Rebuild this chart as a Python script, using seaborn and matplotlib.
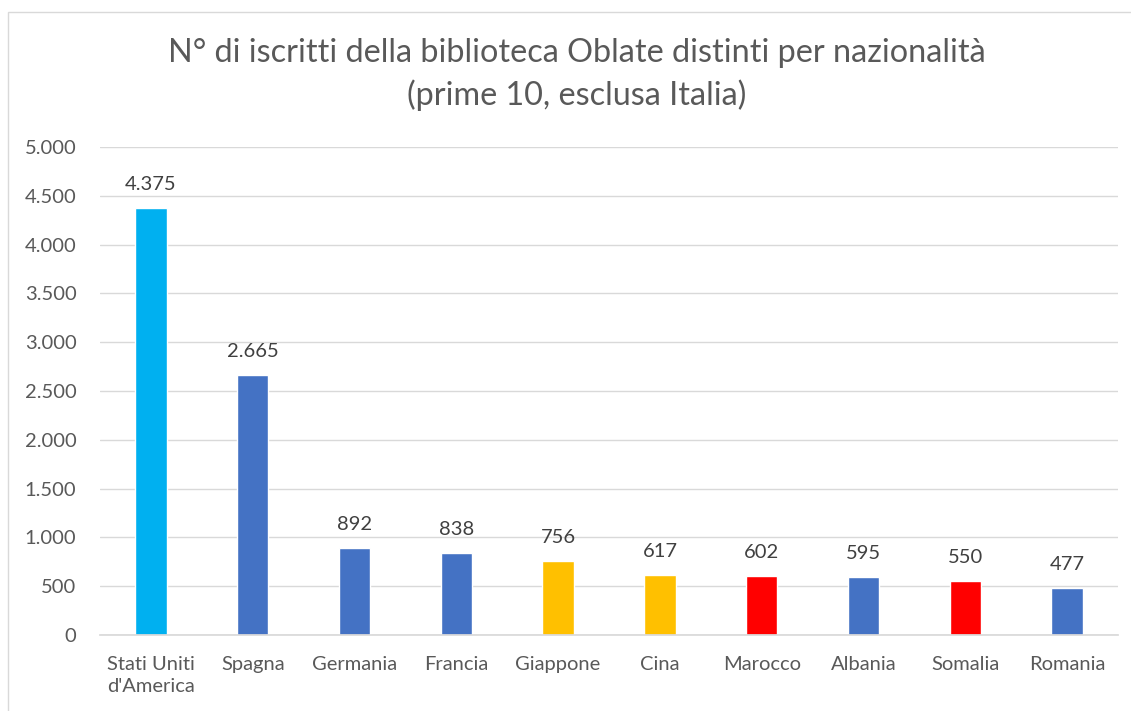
import matplotlib
matplotlib.use("Agg")
import matplotlib.pyplot as plt
import seaborn as sns
import pandas as pd
from matplotlib.patches import Rectangle

categories = ["Stati Uniti\nd'America", "Spagna", "Germania", "Francia", "Giappone",
              "Cina", "Marocco", "Albania", "Somalia", "Romania"]
values = [4375, 2665, 892, 838, 756, 617, 602, 595, 550, 477]
bar_colors = ["#00B0F0", "#4472C4", "#4472C4", "#4472C4", "#FFC000",
              "#FFC000", "#FF0000", "#4472C4", "#FF0000", "#4472C4"]
title = "N° di iscritti della biblioteca Oblate distinti per nazionalità\n(prime 10, esclusa Italia)"
yticks = [0, 500, 1000, 1500, 2000, 2500, 3000, 3500, 4000, 4500, 5000]

sns.set_theme(style="white")
plt.rcParams['font.family'] = ['Lato', 'DejaVu Sans']
txt = "#595959"

df = pd.DataFrame({"cat": categories, "val": values})
fig = plt.figure(figsize=(11.31, 7.11), dpi=100)
ax = fig.add_axes([100/1131, 1-635/711, 1018/1131, 488/711])

sns.barplot(data=df, x="cat", y="val", hue="cat", palette=bar_colors,
            width=0.31, legend=False, ax=ax, saturation=1)

ax.set_ylim(0, 5000)
ax.set_xlim(-0.5, len(categories)-0.5)
ax.set_yticks(yticks)
ax.set_yticklabels([f"{v:,}".replace(",", ".") for v in yticks], fontsize=14.5, color=txt)
ax.tick_params(axis="x", labelsize=14.5, labelcolor=txt, length=0, pad=15)
ax.tick_params(axis="y", length=0, pad=17)
for lab in ax.get_xticklabels():
    lab.set_linespacing(1.35)
ax.set_xlabel("")
ax.set_ylabel("")
ax.yaxis.grid(True, color="#D9D9D9", linewidth=1)
ax.set_axisbelow(True)
for s in ["top", "right", "left"]:
    ax.spines[s].set_visible(False)
ax.spines["bottom"].set_color("#D9D9D9")

for i, v in enumerate(values):
    ax.annotate(f"{v:,}".replace(",", "."), (i, v), xytext=(0, 11), textcoords="offset points",
                ha="center", va="bottom", fontsize=14.5, color="#404040")

fig.text(577/1131, 1-38/711, title, ha="center", va="top", fontsize=23.3, color=txt,
         linespacing=1.45, multialignment="center")

fig.patches.append(Rectangle((8/1131, -0.01), 1.1, 1-12/711+0.01, transform=fig.transFigure,
                             fill=False, edgecolor="#D9D9D9", linewidth=1))

fig.savefig("out.png", dpi=100)
